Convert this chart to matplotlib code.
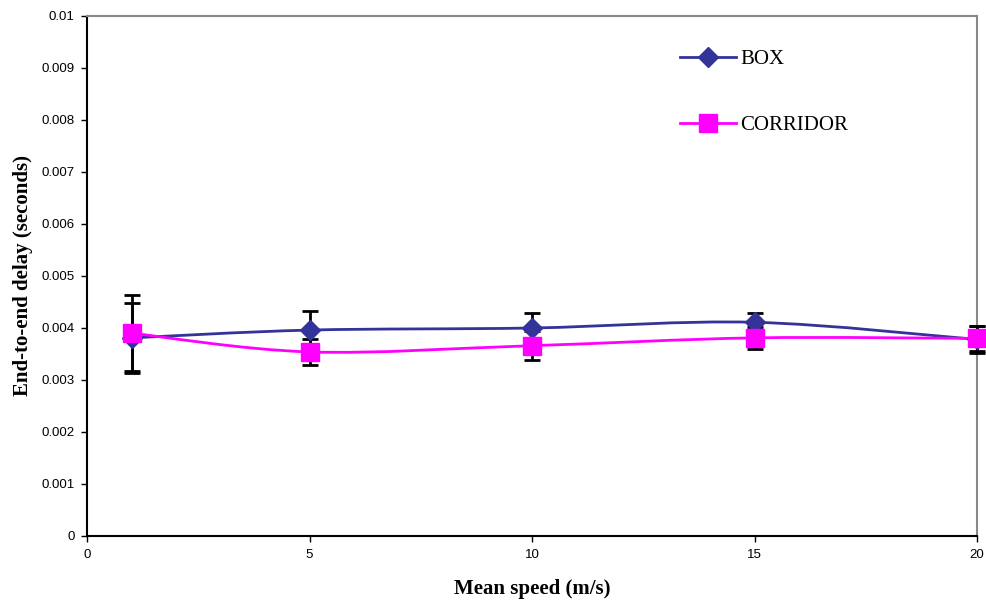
import numpy as np
import matplotlib.pyplot as plt
from matplotlib.path import Path
from matplotlib.patches import PathPatch

# -------- data --------
speed = [1, 5, 10, 15, 20]
box_delay = [0.00381, 0.00396, 0.00400, 0.00411, 0.00378]
box_err = [0.00068, 0.00037, 0.00029, 0.00018, 0.00026]
corridor_delay = [0.00390, 0.00354, 0.00366, 0.00381, 0.00380]
corridor_err = [0.00073, 0.00025, 0.00028, 0.00021, 0.00024]

BOX_COLOR = "#333399"
CORRIDOR_COLOR = "#FF00FF"


# -------- smoothed line (Excel-like) through the points --------
def smooth_path(xs, ys, tension=1 / 6):
    xs = np.asarray(xs, float)
    ys = np.asarray(ys, float)
    verts = [(xs[0], ys[0])]
    codes = [Path.MOVETO]
    n = len(xs)
    for i in range(n - 1):
        p0 = (xs[max(i - 1, 0)], ys[max(i - 1, 0)])
        p1 = (xs[i], ys[i])
        p2 = (xs[i + 1], ys[i + 1])
        p3 = (xs[min(i + 2, n - 1)], ys[min(i + 2, n - 1)])
        c1 = (p1[0] + (p2[0] - p0[0]) * tension, p1[1] + (p2[1] - p0[1]) * tension)
        c2 = (p2[0] - (p3[0] - p1[0]) * tension, p2[1] - (p3[1] - p1[1]) * tension)
        verts += [c1, c2, p2]
        codes += [Path.CURVE4] * 3
    return Path(verts, codes)


fig = plt.figure(figsize=(9.87, 6.01), dpi=100)
ax = fig.add_axes([87 / 987, 65 / 601, 890 / 987, 520 / 601])

for xs, ys, col in [(speed, box_delay, BOX_COLOR), (speed, corridor_delay, CORRIDOR_COLOR)]:
    ax.add_patch(PathPatch(smooth_path(xs, ys), facecolor="none", edgecolor=col, lw=2, zorder=2))

# error bars
ax.errorbar(speed, box_delay, yerr=box_err, fmt="none", ecolor="black",
            elinewidth=2, capsize=5.5, capthick=2, zorder=3, clip_on=False)
ax.errorbar(speed, corridor_delay, yerr=corridor_err, fmt="none", ecolor="black",
            elinewidth=2, capsize=5.5, capthick=2, zorder=3, clip_on=False)

# markers
ax.plot(speed, box_delay, linestyle="none", marker="D", ms=10.5, color=BOX_COLOR,
        zorder=4, clip_on=False)
ax.plot(speed, corridor_delay, linestyle="none", marker="s", ms=13, color=CORRIDOR_COLOR,
        zorder=5, clip_on=False)

# legend handles
ax.plot([], [], color=BOX_COLOR, lw=2, marker="D", ms=10.5, label="BOX")
ax.plot([], [], color=CORRIDOR_COLOR, lw=2, marker="s", ms=13, label="CORRIDOR")
ax.legend(loc="upper left", bbox_to_anchor=(0.645, 0.971), frameon=False,
          prop={"family": "Liberation Serif", "size": 15},
          labelspacing=2.2, handlelength=2.7, handletextpad=0.2)

ax.set_xlim(0, 20)
ax.set_ylim(0, 0.01)
ax.set_xticks([0, 5, 10, 15, 20])
ax.set_yticks(np.arange(0, 0.0101, 0.001))
ax.set_yticklabels(["0", "0.001", "0.002", "0.003", "0.004", "0.005",
                    "0.006", "0.007", "0.008", "0.009", "0.01"])
ax.tick_params(labelsize=9.5, direction="out", length=4, width=1, color="black", pad=5)
for lab in ax.get_xticklabels() + ax.get_yticklabels():
    lab.set_family("Liberation Sans")

ax.spines["left"].set_color("black")
ax.spines["bottom"].set_color("black")
ax.spines["top"].set_color("#888888")
ax.spines["right"].set_color("#888888")
for s in ax.spines.values():
    s.set_linewidth(1.5)

ax.set_xlabel("Mean speed (m/s)", fontfamily="Liberation Serif", fontweight="bold",
              fontsize=15, labelpad=13)
ax.set_ylabel("End-to-end delay (seconds)", fontfamily="Liberation Serif", fontweight="bold",
              fontsize=15, labelpad=6)

fig.savefig("out.png", dpi=100)
